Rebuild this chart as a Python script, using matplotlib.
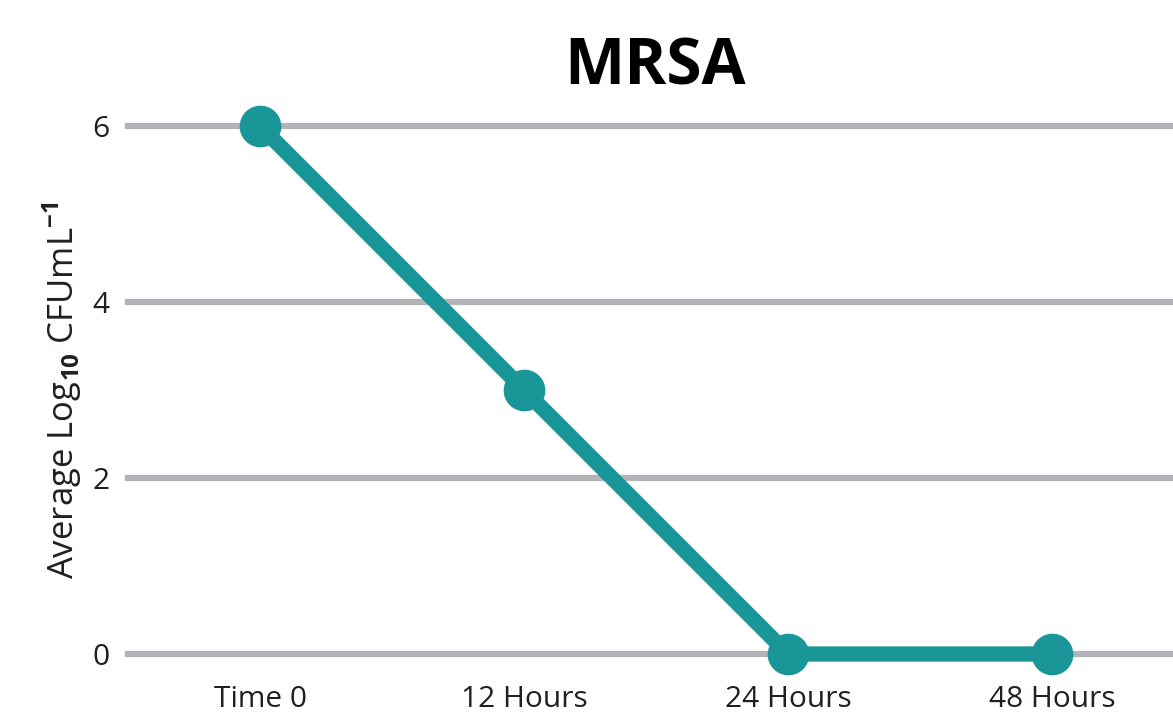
import matplotlib
matplotlib.use("Agg")
import matplotlib.pyplot as plt

plt.rcParams['font.family'] = ['Open Sans', 'DejaVu Sans']
plt.rcParams['mathtext.fontset'] = 'custom'
plt.rcParams['mathtext.rm'] = 'Open Sans'
plt.rcParams['mathtext.bf'] = 'Open Sans:bold'

times = ["Time 0", "12 Hours", "24 Hours", "48 Hours"]
log_cfu = [6, 3, 0, 0]
yticks = [0, 2, 4, 6]

teal = "#1a9699"
grid_gray = "#b4b4b8"

fig = plt.figure(figsize=(11.73, 7.13), dpi=100)
ax = fig.add_axes([128/1173, 59/713, 1 - 128/1173, 528/713])

x = list(range(len(times)))
ax.plot(x, log_cfu, color=teal, lw=11, solid_capstyle='round',
        marker='o', ms=29, mec=teal, mfc=teal, clip_on=False, zorder=3)

ax.set_xlim(-0.5, 3.458)
ax.set_ylim(0, 6)
ax.set_yticks(yticks)
ax.set_xticks(x)
ax.set_xticklabels(times)
for yv in yticks:
    ax.axhline(yv, color=grid_gray, lw=4.5, zorder=1, clip_on=False)

for s in ax.spines.values():
    s.set_visible(False)
ax.tick_params(axis='both', length=0, labelsize=21.5, colors='#231f20')
ax.tick_params(axis='y', pad=13)
ax.tick_params(axis='x', pad=22)

ax.set_ylabel(r"Average Log$_{\mathbf{10}}$ CFUmL$^{\mathbf{-1}}$",
              fontsize=25, color='#231f20', labelpad=6)
fig.text(655/1173, 1 - 68/713, "MRSA", fontsize=46, fontweight='bold',
         ha='center', va='center', color='black')

fig.savefig("out.png", dpi=100)
